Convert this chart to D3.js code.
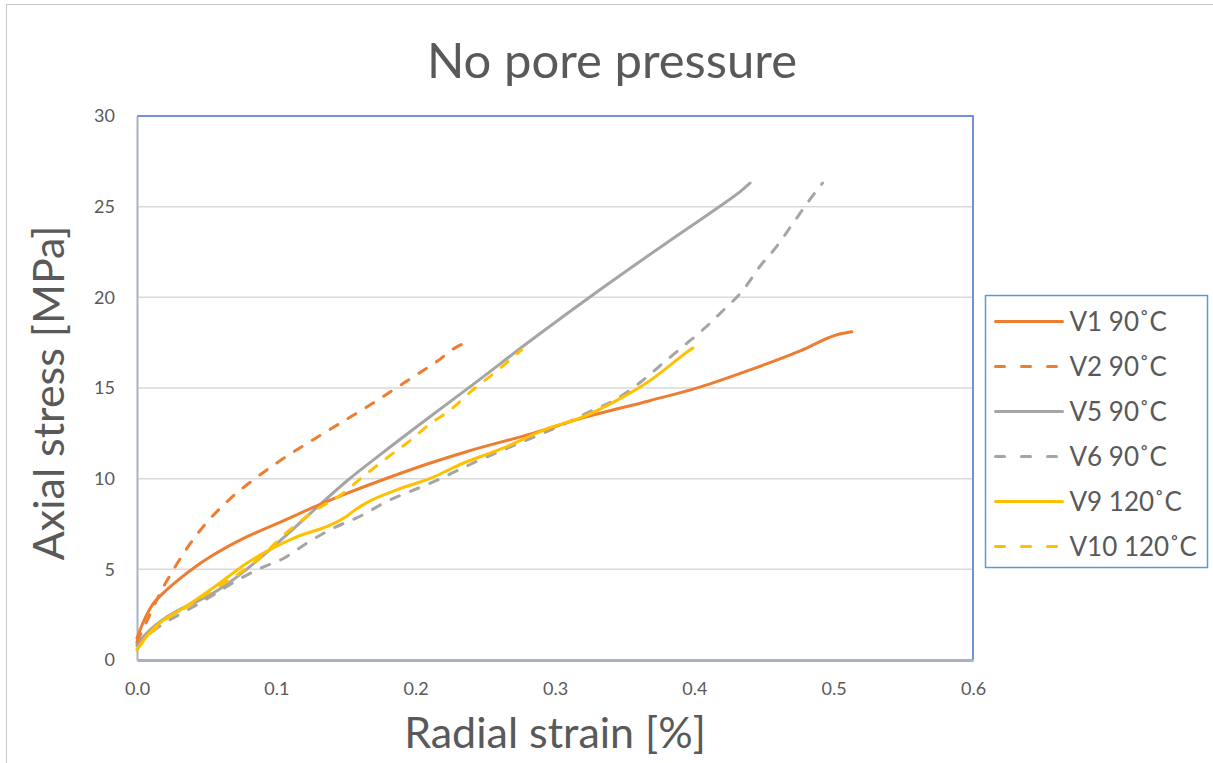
<!DOCTYPE html>
<html>
<head>
<meta charset="utf-8">
<script src="https://cdn.jsdelivr.net/npm/d3@7"></script>
<style>
  body { margin: 0; background: #fff; }
  svg { display: block; font-family: Lato, "Open Sans", sans-serif; }
</style>
</head>
<body>
<div id="chart"></div>
<script>
// radial strain [%], axial stress [MPa]
const v1 = [[0,1.2],[0.004,2.0],[0.0115,3.1],[0.019,3.7],[0.031,4.5],[0.043,5.2],[0.055,5.8],[0.079,6.8],[0.103,7.6],[0.126,8.4],[0.151,9.2],[0.175,9.9],[0.21,10.85],[0.237,11.5],[0.284,12.5],[0.32,13.35],[0.368,14.3],[0.404,15.05],[0.44,16.0],[0.476,17.05],[0.503,17.95],[0.513,18.1]];
const v2 = [[0,1.0],[0.008,2.3],[0.016,3.6],[0.026,4.96],[0.038,6.4],[0.052,7.75],[0.067,8.9],[0.082,9.85],[0.1,10.85],[0.118,11.75],[0.135,12.55],[0.152,13.35],[0.168,14.1],[0.184,14.9],[0.2,15.7],[0.215,16.45],[0.228,17.2],[0.237,17.55]];
const v5 = [[0,0.9],[0.01,1.7],[0.02,2.3],[0.03,2.75],[0.045,3.3],[0.058,3.85],[0.072,4.6],[0.085,5.4],[0.103,6.6],[0.126,8.2],[0.151,9.9],[0.175,11.35],[0.21,13.4],[0.237,14.95],[0.284,17.7],[0.332,20.4],[0.38,23.0],[0.416,24.9],[0.434,25.9],[0.44,26.3]];
const v6 = [[0,0.8],[0.01,1.5],[0.019,2.0],[0.035,2.7],[0.053,3.5],[0.072,4.4],[0.089,5.07],[0.105,5.6],[0.122,6.45],[0.139,7.2],[0.162,8.0],[0.177,8.65],[0.215,9.9],[0.234,10.6],[0.248,11.1],[0.268,11.75],[0.309,13.1],[0.325,13.7],[0.342,14.3],[0.361,15.3],[0.375,16.2],[0.392,17.3],[0.406,18.2],[0.421,19.3],[0.435,20.4],[0.447,21.7],[0.459,22.8],[0.471,24.1],[0.483,25.4],[0.492,26.3]];
const v9 = [[0,0.55],[0.009,1.5],[0.019,2.2],[0.031,2.75],[0.055,4.0],[0.079,5.35],[0.095,6.07],[0.115,6.8],[0.139,7.45],[0.15,7.9],[0.157,8.3],[0.168,8.8],[0.187,9.4],[0.21,10.0],[0.234,10.85],[0.26,11.6],[0.296,12.8],[0.32,13.4],[0.344,14.3],[0.368,15.4],[0.385,16.4],[0.395,17.0],[0.399,17.2]];
const v10 = [[0,0.6],[0.01,1.5],[0.02,2.2],[0.035,2.9],[0.055,3.9],[0.072,4.7],[0.086,5.5],[0.11,7.2],[0.129,8.3],[0.148,9.2],[0.162,10.1],[0.182,11.3],[0.196,12.1],[0.21,13.0],[0.225,13.8],[0.241,14.9],[0.256,15.8],[0.27,16.7],[0.276,17.1]];

const seriesNames = ["V1 90˚C", "V2 90˚C", "V5 90˚C", "V6 90˚C", "V9 120˚C", "V10 120˚C"];
const seriesValues = [v1, v2, v5, v6, v9, v10];
const seriesColors = ["#ED7D31", "#ED7D31", "#A5A5A5", "#A5A5A5", "#FFC000", "#FFC000"];
const seriesDashed = [false, true, false, true, false, true];

const xTicks = [0, 0.1, 0.2, 0.3, 0.4, 0.5, 0.6];
const yTicks = [0, 5, 10, 15, 20, 25, 30];

const width = 1213;
const height = 763;
const margin = { top: 116, right: 240, bottom: 103, left: 137 };

const svg = d3
  .select("#chart")
  .append("svg")
  .attr("width", width)
  .attr("height", height);

// outer chart frame
svg
  .append("rect")
  .attr("x", 6.5)
  .attr("y", 4.5)
  .attr("width", width + 20)
  .attr("height", height + 20)
  .attr("fill", "none")
  .attr("stroke", "#c8c8c8");

const x = d3.scaleLinear().domain([0, 0.6]).range([margin.left, width - margin.right]);
const y = d3.scaleLinear().domain([0, 30]).range([height - margin.bottom, margin.top]);

// title
svg
  .append("text")
  .attr("x", 612)
  .attr("y", 78)
  .attr("text-anchor", "middle")
  .attr("fill", "#595959")
  .attr("font-size", 49)
  .text("No pore pressure");

// gridlines
svg
  .append("g")
  .selectAll("line")
  .data(yTicks.filter((d) => d > 0 && d < 30))
  .join("line")
  .attr("x1", x(0))
  .attr("x2", x(0.6))
  .attr("y1", (d) => y(d))
  .attr("y2", (d) => y(d))
  .attr("stroke", "#d9d9d9")
  .attr("stroke-width", 1.5);

// plot frame (top/right blue)
svg
  .append("path")
  .attr("d", `M${x(0)},${y(30)}H${x(0.6)}V${y(0)}`)
  .attr("fill", "none")
  .attr("stroke", "#4472C4")
  .attr("stroke-width", 1.5);

// y axis
svg
  .append("g")
  .attr("transform", `translate(${x(0)},0)`)
  .call(d3.axisLeft(y).tickValues(yTicks).tickSize(0).tickPadding(22))
  .call((g) => g.select(".domain").attr("stroke", "#a9b1bf").attr("stroke-width", 2))
  .call((g) =>
    g.selectAll("text").attr("fill", "#595959").attr("font-size", 18).attr("font-family", "Lato, sans-serif")
  );

// x axis
svg
  .append("g")
  .attr("transform", `translate(0,${y(0)})`)
  .call(d3.axisBottom(x).tickValues(xTicks).tickFormat(d3.format(".1f")).tickSize(0).tickPadding(22))
  .call((g) => g.select(".domain").attr("stroke", "#a9b1bf").attr("stroke-width", 3))
  .call((g) =>
    g.selectAll("text").attr("fill", "#595959").attr("font-size", 18).attr("font-family", "Lato, sans-serif")
  );

// axis titles
svg
  .append("text")
  .attr("transform", `translate(64,${(y(0) + y(30)) / 2 + 5}) rotate(-90)`)
  .attr("text-anchor", "middle")
  .attr("fill", "#595959")
  .attr("font-size", 43)
  .text("Axial stress [MPa]");

svg
  .append("text")
  .attr("x", (x(0) + x(0.6)) / 2)
  .attr("y", 748)
  .attr("text-anchor", "middle")
  .attr("fill", "#595959")
  .attr("font-size", 43)
  .text("Radial strain [%]");

// lines
const line = d3
  .line()
  .x((d) => x(d[0]))
  .y((d) => y(d[1]))
  .curve(d3.curveMonotoneX);

const order = [2, 3, 0, 1, 4, 5];
svg
  .append("g")
  .selectAll("path")
  .data(order)
  .join("path")
  .attr("fill", "none")
  .attr("stroke", (i) => seriesColors[i])
  .attr("stroke-width", 3)
  .attr("stroke-linecap", "round")
  .attr("stroke-linejoin", "round")
  .attr("stroke-dasharray", (i) => (seriesDashed[i] ? "9,12" : null))
  .attr("d", (i) => line(seriesValues[i]));

// legend
const legend = svg.append("g").attr("transform", "translate(985.5,295.5)");
legend
  .append("rect")
  .attr("width", 222)
  .attr("height", 272)
  .attr("fill", "#fff")
  .attr("stroke", "#5B9BD5")
  .attr("stroke-width", 1.5);

const item = legend
  .selectAll("g")
  .data(seriesNames)
  .join("g")
  .attr("transform", (d, i) => `translate(0,${26 + i * 45})`);

item
  .append("line")
  .attr("x1", 10)
  .attr("x2", 77)
  .attr("stroke", (d, i) => seriesColors[i])
  .attr("stroke-width", 3)
  .attr("stroke-linecap", "round")
  .attr("stroke-dasharray", (d, i) => (seriesDashed[i] ? "9,17" : null));

item
  .append("text")
  .attr("x", 84)
  .attr("dy", "0.36em")
  .attr("fill", "#595959")
  .attr("font-size", 26)
  .text((d) => d);
</script>
</body>
</html>
